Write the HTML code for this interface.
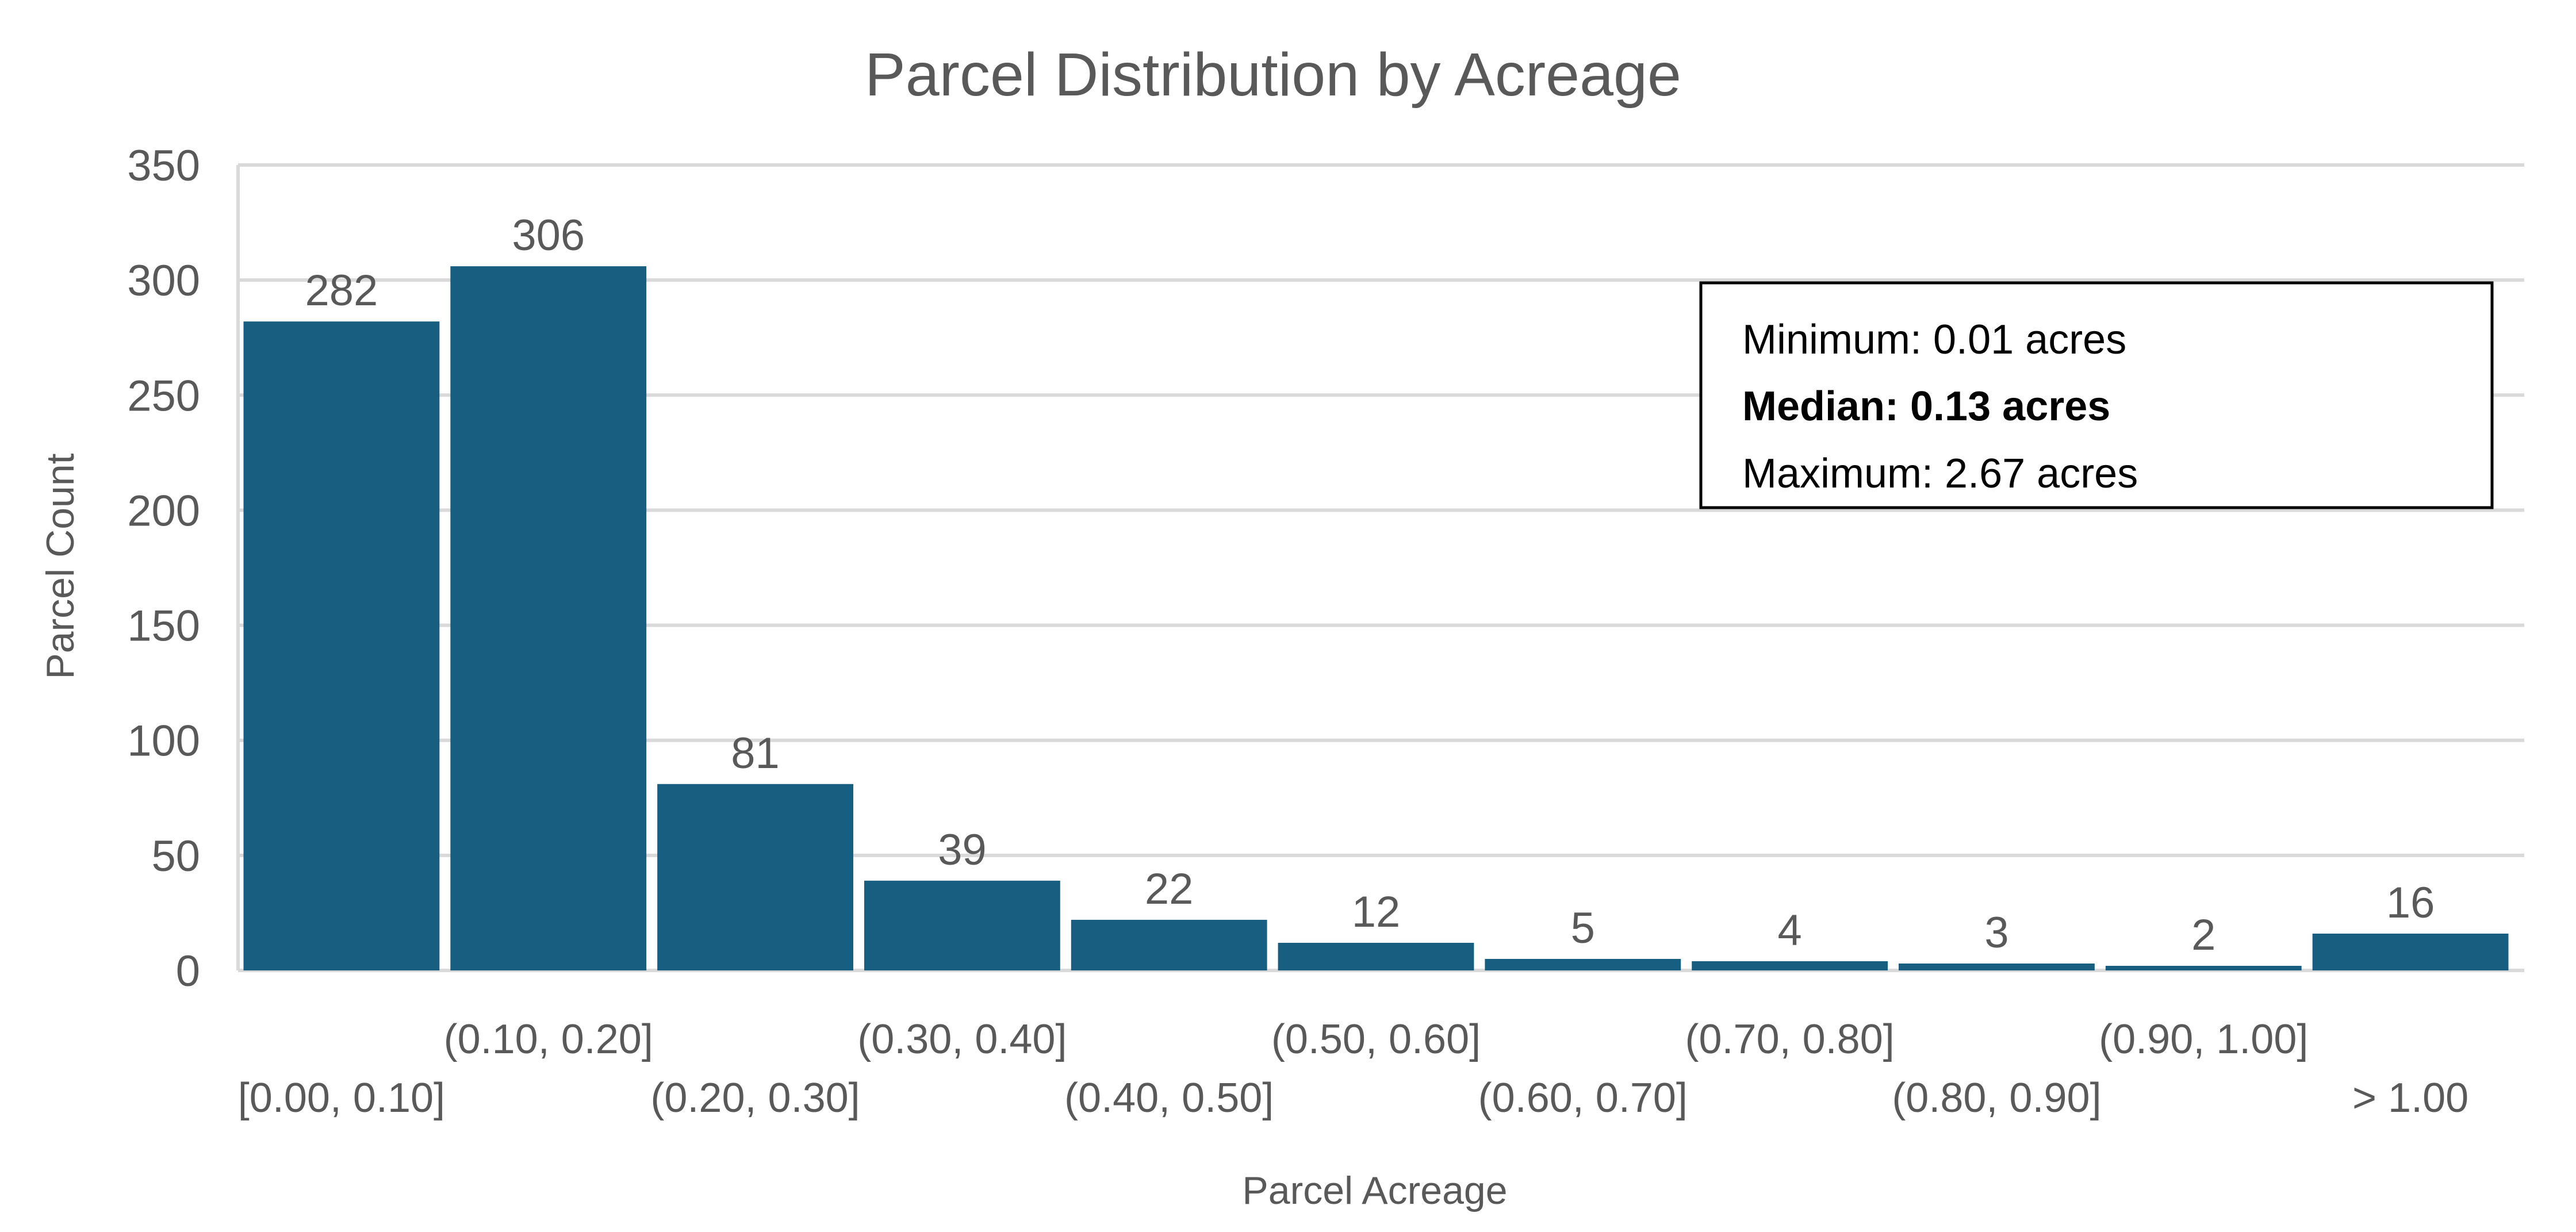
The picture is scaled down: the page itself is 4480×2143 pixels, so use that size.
<!DOCTYPE html>
<html><head><meta charset="utf-8"><style>
html,body{margin:0;padding:0;background:#fff;}
svg{display:block;font-family:"Liberation Sans",sans-serif;}
</style></head><body>
<svg width="4480" height="2143" viewBox="0 0 4480 2143">
<rect x="0" y="0" width="4480" height="2143" fill="#fff"/>
<text x="2214" y="166" font-size="106" fill="#595959" text-anchor="middle">Parcel Distribution by Acreage</text>
<g id="grid"></g>
<g id="yticks"></g>
<g id="bars"></g>
<g id="vals"></g>
<g id="xticks"></g>
<text transform="translate(128,985) rotate(-90)" font-size="68" fill="#595959" text-anchor="middle">Parcel Count</text>
<text x="2391" y="2094" font-size="68" fill="#595959" text-anchor="middle">Parcel Acreage</text>
<g>
<rect x="2958" y="492" width="1376" height="391" fill="#fff" stroke="#000" stroke-width="5"/>
<text x="3030" y="615" font-size="72" fill="#000">Minimum: 0.01 acres</text>
<text x="3030" y="731" font-size="72" font-weight="bold" fill="#000">Median: 0.13 acres</text>
<text x="3030" y="848" font-size="72" fill="#000">Maximum: 2.67 acres</text>
</g>
</svg>
<script>
const categories = ["[0.00, 0.10]","(0.10, 0.20]","(0.20, 0.30]","(0.30, 0.40]","(0.40, 0.50]","(0.50, 0.60]","(0.60, 0.70]","(0.70, 0.80]","(0.80, 0.90]","(0.90, 1.00]","> 1.00"];
const counts = [282,306,81,39,22,12,5,4,3,2,16];
const yTicks = [0,50,100,150,200,250,300,350];

const NS="http://www.w3.org/2000/svg";
const L=414,R=4372,T=287,B=1688,YMAX=350;
const y=v=>B-(v/YMAX)*(B-T);
const slot=(R-L)/categories.length;
const xc=i=>L+slot*(i+0.5);
function mk(tag,attrs,parent){const e=document.createElementNS(NS,tag);for(const k in attrs)e.setAttribute(k,attrs[k]);document.getElementById(parent).appendChild(e);return e;}
mk('line',{x1:L,y1:T,x2:L,y2:B,stroke:'#D9D9D9','stroke-width':6},'grid');
yTicks.forEach(t=>{
  const g=mk('line',{x1:L,y1:y(t),x2:R+18,y2:y(t),stroke:'#D9D9D9','stroke-width':6},'grid');
  
  
  const tx=mk('text',{x:348,y:y(t)+27,'font-size':76,fill:'#595959','text-anchor':'end'},'yticks');
  tx.textContent=t;
  
  
});
counts.forEach((c,i)=>{
  const w=slot-19;
  const r=mk('rect',{x:xc(i)-w/2,y:y(c),width:w,height:B-y(c),fill:'#175E81'},'bars');
  
  
  const v=mk('text',{x:xc(i),y:y(c)-28,'font-size':76,fill:'#595959','text-anchor':'middle'},'vals');
  v.textContent=c;
  
  
  const xl=mk('text',{x:xc(i),y:(i%2===1)?1832:1934,'font-size':72,fill:'#595959','text-anchor':'middle'},'xticks');
  xl.textContent=categories[i];
  
  
});
</script>
</body></html>
